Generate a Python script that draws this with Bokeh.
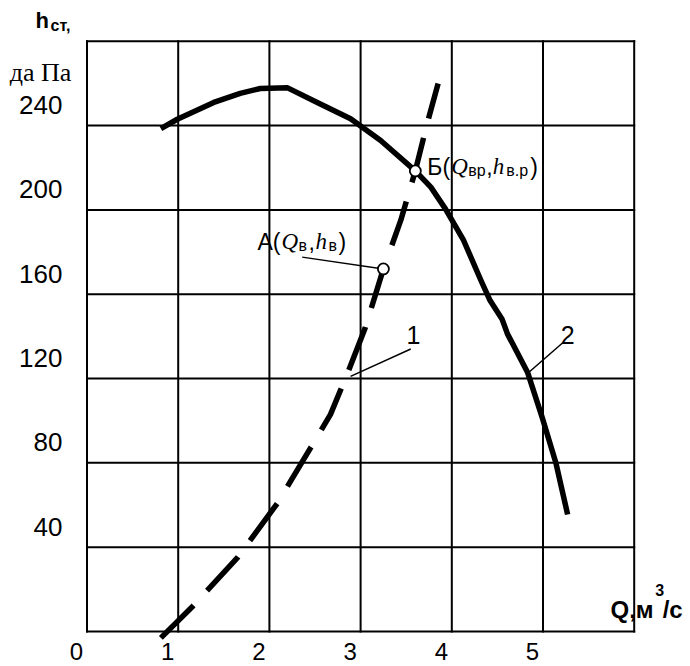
import numpy as np
from bokeh.plotting import figure
from bokeh.models import Range1d
from bokeh.core.properties import value
from bokeh.embed import file_html
from bokeh.resources import INLINE

# ---------------- data ----------------
# curve 1: network characteristic (dashed)
q_network = [0.81, 1.16, 1.65, 2.09, 2.45, 2.67, 2.87, 3.05, 3.25, 3.44, 3.60, 3.73, 3.85]
h_network = [-3, 12, 35, 61, 87, 103, 124, 144, 172, 195, 218.5, 241, 260]

# curve 2: fan characteristic (solid)
q_fan = [0.81, 0.99, 1.39, 1.68, 1.90, 2.20, 2.53, 2.89, 3.22, 3.60, 3.77, 3.93,
         4.13, 4.32, 4.42, 4.55, 4.61, 4.83, 4.99, 5.14, 5.27]
h_fan = [238.6, 243, 251, 255.3, 257.6, 257.9, 250.8, 243.2, 232.9, 218.5, 210.8, 200.5,
         185.5, 166.5, 157, 148.3, 141.2, 123, 101.7, 80.2, 55.5]

# operating points A and Б
point_q = [3.25, 3.60]
point_h = [172, 218.5]

x_grid = [0, 1, 2, 3, 4, 5, 6]
y_grid = [0, 40, 80, 120, 160, 200, 240, 280]
x_ticks = [0, 1, 2, 3, 4, 5]
x_tick_labels = ["0", "1", "2", "3", "4", "5"]
y_ticks = [40, 80, 120, 160, 200, 240]
y_tick_labels = ["40", "80", "120", "160", "200", "240"]

# callout anchors (data coordinates)
callout1_from = (2.89, 121)
callout1_to = (3.55, 134)
callout1_label = (3.58, 136.6)
callout2_from = (4.83, 122.4)
callout2_to = (5.22, 137.1)
callout2_label = (5.27, 136.6)
calloutA_from = (2.36, 177.6)

SANS = "Liberation Sans"
SERIF = "Liberation Serif"
TEXT_SHIFT = -9  # baseline correction in px

p = figure(width=690, height=666,
           x_range=Range1d(-0.9485, 6.6173), y_range=Range1d(-16.60, 299.34),
           output_backend="svg", toolbar_location=None,
           x_axis_type=None, y_axis_type=None, min_border=0)
p.outline_line_color = None
p.background_fill_color = "white"
p.border_fill_color = "white"

# grid
n_x, n_y = len(x_grid), len(y_grid)
p.segment(x0=x_grid, y0=[y_grid[0]] * n_x, x1=x_grid, y1=[y_grid[-1]] * n_x,
          line_color="black", line_width=2, line_cap="square")
p.segment(x0=[x_grid[0]] * n_y, y0=y_grid, x1=[x_grid[-1]] * n_y, y1=y_grid,
          line_color="black", line_width=2, line_cap="square")

# curves
p.line(q_network, h_network, line_color="black", line_width=5.5,
       line_dash="46 20", line_cap="butt", line_join="round")
p.line(q_fan, h_fan, line_color="black", line_width=5.5,
       line_cap="butt", line_join="round")

# callout leader lines
p.segment(x0=[callout1_from[0], callout2_from[0], calloutA_from[0]],
          y0=[callout1_from[1], callout2_from[1], calloutA_from[1]],
          x1=[callout1_to[0], callout2_to[0], point_q[0]],
          y1=[callout1_to[1], callout2_to[1], point_h[0]],
          line_color="black", line_width=1.5)

# points
p.scatter(point_q, point_h, size=11, fill_color="white", line_color="black", line_width=1.8)


def txt(x, y, text, font=SANS, size="24px", style="normal", align="left",
        baseline="alphabetic", dx=0, dy=0):
    p.text(x=x, y=y, text=text, text_font=value(font), text_font_size=size,
           text_font_style=style, text_align=align, text_baseline=baseline,
           x_offset=dx, y_offset=dy + TEXT_SHIFT, text_color="black")


# tick labels
txt([0] * len(y_ticks), y_ticks, y_tick_labels, size="26px", align="right", dx=-24.5, dy=-11.5)
txt(x_ticks, [0] * len(x_ticks), x_tick_labels, size="24px", align="center", dx=-10.5, dy=29)

# axis titles
txt([0], [280], ["h"], size="22px", style="bold", dx=-51.5, dy=-12)
txt([0], [280], ["ст,"], size="16px", style="bold", dx=-36.5, dy=-6.5)
txt([0], [280], ["да Па"], font=SERIF, size="26px", align="center", dx=-46.5, dy=40)

txt([6], [0], ["Q,м"], size="24px", style="bold", dx=-23.7, dy=-13)
txt([6], [0], ["3"], size="16px", style="bold", dx=21, dy=-33)
txt([6], [0], ["/с"], size="24px", style="bold", dx=28.5, dy=-13)

# curve numbers
txt([callout1_label[0]], [callout1_label[1]], ["1"], size="25px", align="center")
txt([callout2_label[0]], [callout2_label[1]], ["2"], size="25px", align="center")

# label Б(Q_вр, h_в.р)
bq, bh = [point_q[1]], [point_h[1]]
txt(bq, bh, ["Б("], size="23px", dx=12, dy=5)
txt(bq, bh, ["Q"], font=SERIF, size="23px", style="italic", dx=36, dy=5)
txt(bq, bh, ["вр"], size="16px", dx=53, dy=9)
txt(bq, bh, [","], size="23px", dx=71, dy=5)
txt(bq, bh, ["h"], font=SERIF, size="23px", style="italic", dx=77.5, dy=5)
txt(bq, bh, ["в.р"], size="16px", dx=91, dy=9)
txt(bq, bh, [")"], size="23px", dx=115, dy=5)

# label А(Q_в, h_в)
aq, ah = [point_q[0]], [point_h[0]]
txt(aq, ah, ["А("], size="23px", dx=-126, dy=-18)
txt(aq, ah, ["Q"], font=SERIF, size="23px", style="italic", dx=-102, dy=-18)
txt(aq, ah, ["в"], size="16px", dx=-85, dy=-14)
txt(aq, ah, [","], size="23px", dx=-75, dy=-18)
txt(aq, ah, ["h"], font=SERIF, size="23px", style="italic", dx=-68, dy=-18)
txt(aq, ah, ["в"], size="16px", dx=-55, dy=-14)
txt(aq, ah, [")"], size="23px", dx=-45, dy=-18)

open("out.html", "w").write(file_html(p, INLINE))
